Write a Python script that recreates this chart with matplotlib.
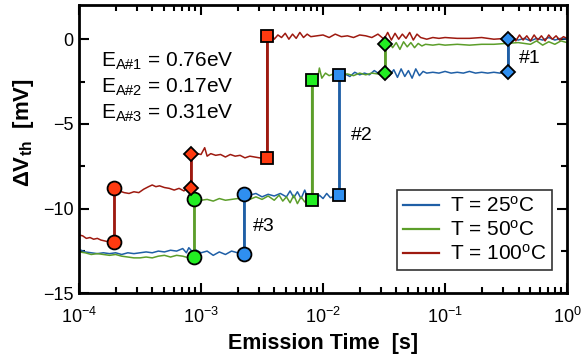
import numpy as np
import matplotlib
matplotlib.use("Agg")
import matplotlib.pyplot as plt
from matplotlib.ticker import LogLocator, NullFormatter, FixedLocator

plt.rcParams['font.family'] = ['Liberation Sans', 'DejaVu Sans']
plt.rcParams['mathtext.fontset'] = 'custom'
plt.rcParams['mathtext.rm'] = 'Liberation Sans'
plt.rcParams['mathtext.it'] = 'Liberation Sans'
plt.rcParams['mathtext.bf'] = 'Liberation Sans:bold'

# ---------------- data (log10 of emission time [s], dVth [mV]) ----------------
series_labels = ["T = 25$^{\\mathrm{o}}$C", "T = 50$^{\\mathrm{o}}$C", "T = 100$^{\\mathrm{o}}$C"]

blue_logt = [-4.00, -3.95, -3.90, -3.85, -3.80, -3.75, -3.70, -3.65, -3.60, -3.55, -3.50, -3.45, -3.40,
             -3.35, -3.30, -3.25, -3.20, -3.15, -3.12, -3.10, -3.07, -3.05, -3.00, -2.95, -2.90, -2.85,
             -2.80, -2.75, -2.70, -2.648,
             -2.648, -2.60, -2.55, -2.50, -2.45, -2.40, -2.35, -2.30, -2.27, -2.24, -2.21, -2.18, -2.15,
             -2.12, -2.09, -2.06, -2.03, -2.00, -1.97, -1.94, -1.90, -1.866,
             -1.866, -1.82, -1.78, -1.74, -1.70, -1.66, -1.62, -1.58, -1.54, -1.50, -1.46, -1.42, -1.39,
             -1.36, -1.33, -1.30, -1.27, -1.24, -1.21, -1.18, -1.15, -1.10, -1.05, -1.00, -0.95, -0.90,
             -0.85, -0.80, -0.75, -0.70, -0.65, -0.60, -0.55, -0.486,
             -0.486, -0.45, -0.40, -0.35, -0.30, -0.25, -0.20, -0.15, -0.10, -0.05, 0.0]
blue_v = [-12.4, -12.55, -12.6, -12.65, -12.6, -12.65, -12.6, -12.7, -12.6, -12.65, -12.6, -12.55, -12.6,
          -12.5, -12.55, -12.45, -12.5, -12.35, -12.6, -12.3, -12.55, -12.4, -12.6, -12.5, -12.75, -12.55,
          -12.7, -12.5, -12.6, -12.65,
          -9.15, -9.2, -9.1, -9.3, -9.15, -9.25, -9.1, -9.3, -8.95, -9.35, -9.0, -9.4, -8.9,
          -9.45, -9.1, -9.5, -9.2, -9.4, -9.1, -9.35, -9.25, -9.2,
          -2.1, -2.05, -2.2, -1.95, -2.1, -2.0, -2.1, -1.85, -2.05, -1.95, -2.2, -1.8, -2.25,
          -1.75, -2.2, -1.85, -2.3, -1.75, -2.15, -1.9, -2.0, -1.95, -2.0, -1.9, -2.0, -1.95,
          -2.0, -1.9, -2.0, -1.95, -2.0, -1.95, -2.0, -1.95,
          0.0, 0.05, -0.05, 0.05, -0.1, 0.05, -0.05, 0.1, -0.05, 0.05, 0.0]

green_logt = [-4.00, -3.95, -3.90, -3.85, -3.80, -3.75, -3.70, -3.65, -3.60, -3.55, -3.50, -3.45, -3.40,
              -3.35, -3.30, -3.25, -3.20, -3.15, -3.10, -3.055,
              -3.055, -3.00, -2.95, -2.90, -2.85, -2.80, -2.75, -2.70, -2.65, -2.60, -2.55, -2.50, -2.45,
              -2.40, -2.36, -2.33, -2.30, -2.27, -2.24, -2.21, -2.18, -2.15, -2.12, -2.093,
              -2.093, -2.07, -2.05, -2.03, -2.01, -1.98, -1.95, -1.90, -1.85, -1.80, -1.75, -1.70, -1.65,
              -1.60, -1.55, -1.492,
              -1.492, -1.46, -1.43, -1.40, -1.37, -1.34, -1.31, -1.28, -1.25, -1.22, -1.19, -1.16, -1.10,
              -1.05, -1.00, -0.90, -0.80, -0.70, -0.60, -0.50, -0.40, -0.30, -0.25, -0.20, -0.15, -0.10,
              -0.05, 0.0]
green_v = [-12.55, -12.6, -12.7, -12.65, -12.7, -12.75, -12.7, -12.8, -12.85, -12.9, -12.9, -12.85, -12.9,
           -12.8, -12.75, -12.85, -12.75, -12.8, -12.9, -12.85,
           -9.4, -9.5, -9.45, -9.55, -9.4, -9.5, -9.45, -9.4, -9.35, -9.45, -9.3, -9.45, -9.25,
           -9.5, -9.2, -9.55, -9.3, -9.65, -9.2, -9.7, -9.3, -9.6, -9.4, -9.5,
           -2.4, -2.2, -2.55, -1.7, -2.3, -2.0, -2.15, -2.0, -2.1, -2.05, -2.15, -2.0, -2.1,
           -2.0, -2.05, -2.0,
           -0.3, -0.1, -0.5, -0.2, -0.6, -0.15, -0.45, -0.2, -0.5, -0.25, -0.4, -0.3, -0.35,
           -0.3, -0.35, -0.3, -0.35, -0.3, -0.3, -0.25, -0.2, -0.3, -0.1, -0.35, -0.15, -0.3,
           -0.1, -0.2]

red_logt = [-4.00, -3.97, -3.94, -3.91, -3.88, -3.85, -3.82, -3.79, -3.76, -3.71,
            -3.71, -3.67, -3.63, -3.59, -3.55, -3.51, -3.47, -3.43, -3.40, -3.37, -3.34, -3.30, -3.26,
            -3.22, -3.18, -3.14, -3.11, -3.084,
            -3.084, -3.06, -3.03, -3.00, -2.97, -2.95, -2.92, -2.88, -2.84, -2.80, -2.76, -2.72, -2.68,
            -2.64, -2.60, -2.56, -2.52, -2.461,
            -2.461, -2.44, -2.42, -2.40, -2.37, -2.34, -2.31, -2.28, -2.25, -2.22, -2.19, -2.16, -2.13,
            -2.10, -2.05, -2.00, -1.95, -1.90, -1.85, -1.80, -1.75, -1.70, -1.65, -1.60, -1.55, -1.50,
            -1.47, -1.44, -1.41, -1.38, -1.35, -1.32, -1.29, -1.26, -1.23, -1.20, -1.15, -1.10, -1.05,
            -1.00, -0.90, -0.80, -0.70, -0.60, -0.50, -0.45, -0.42, -0.39, -0.36, -0.33, -0.30, -0.27,
            -0.24, -0.21, -0.18, -0.15, -0.12, -0.09, -0.06, -0.03, 0.0]
red_v = [-11.55, -11.6, -11.75, -11.7, -11.8, -11.75, -11.85, -11.9, -11.95, -11.95,
         -8.8, -8.95, -9.05, -9.1, -9.0, -9.05, -8.85, -8.7, -8.6, -8.7, -8.65, -8.75, -8.8,
         -8.9, -8.8, -8.95, -8.75, -8.8,
         -6.8, -6.85, -6.75, -6.8, -6.4, -6.9, -6.75, -6.85, -6.8, -6.95, -6.8, -6.9, -6.85,
         -7.0, -6.9, -6.95, -7.0, -7.0,
         0.2, 0.05, 0.3, 0.0, 0.25, 0.1, 0.35, 0.0, 0.3, 0.05, 0.4, 0.1, 0.3,
         0.15, 0.2, 0.25, 0.1, 0.3, 0.15, 0.2, 0.1, 0.25, 0.2, 0.1, 0.3, 0.0,
         0.4, -0.05, 0.35, 0.0, 0.3, 0.05, 0.4, -0.05, 0.3, 0.1, 0.0, 0.1, 0.05,
         0.1, 0.05, 0.05, 0.1, 0.0, 0.05, 0.2, -0.1, 0.25, -0.05, 0.2, -0.1, 0.25,
         -0.05, 0.2, -0.1, 0.25, 0.0, 0.2, -0.05, 0.15, 0.05]

# step events: (time of emission, level before, level after) for traps #3, #2, #1
blue_step_t = [2.25e-3, 1.36e-2, 0.327]
blue_step_lo = [-12.65, -9.2, -1.95]
blue_step_hi = [-9.15, -2.1, 0.0]

green_step_t = [8.8e-4, 8.07e-3, 0.0322]
green_step_lo = [-12.85, -9.5, -2.0]
green_step_hi = [-9.4, -2.4, -0.3]

red_step_t = [1.95e-4, 3.46e-3, 8.2e-4]
red_step_lo = [-11.95, -7.0, -8.8]
red_step_hi = [-8.8, 0.2, -6.8]

trap_markers = ['o', 's', 'D']  # #3, #2, #1
energies = ["E$_{\\mathrm{A\\#1}}$ = 0.76eV", "E$_{\\mathrm{A\\#2}}$ = 0.17eV", "E$_{\\mathrm{A\\#3}}$ = 0.31eV"]
trap_labels = ["#1", "#2", "#3"]

# ---------------- plot ----------------
fig = plt.figure(figsize=(5.81, 3.54), dpi=100)
ax = fig.add_axes([0.136, 0.171, 0.840, 0.814])

line_cols = ['#1f5fa6', '#5c9e2a', '#9e1a10']
fill_cols = ['#2f8ff0', '#22ee22', '#ff3a10']

traces = [(blue_logt, blue_v), (green_logt, green_v), (red_logt, red_v)]
steps = [(blue_step_t, blue_step_lo, blue_step_hi),
         (green_step_t, green_step_lo, green_step_hi),
         (red_step_t, red_step_lo, red_step_hi)]

for (lt, v), lc, lab in zip(traces, line_cols, series_labels):
    ax.plot(10 ** np.array(lt), v, color=lc, lw=1.1, label=lab, zorder=2)

for (st, lo, hi), lc, fc in zip(steps, line_cols, fill_cols):
    for t, a, b, m in zip(st, lo, hi, trap_markers):
        ax.plot([t, t], [a, b], color=lc, lw=2.0, zorder=3)
        ms = 10 if m == 'o' else (9 if m == 's' else 7.5)
        ax.plot([t, t], [a, b], ls='none', marker=m, ms=ms, mfc=fc, mec='black', mew=1.3, zorder=4)

ax.set_xscale('log')
ax.set_xlim(1e-4, 1)
ax.set_ylim(-15, 2)

ax.xaxis.set_major_locator(LogLocator(base=10, numticks=10))
ax.xaxis.set_minor_locator(LogLocator(base=10, subs=np.arange(2, 10), numticks=10))
ax.xaxis.set_minor_formatter(NullFormatter())
ax.yaxis.set_major_locator(FixedLocator([-15, -10, -5, 0]))
ax.yaxis.set_minor_locator(FixedLocator([-12.5, -7.5, -2.5]))

ax.tick_params(which='both', direction='in', top=True, right=True, width=1.5, labelsize=13)
ax.tick_params(which='major', length=7)
ax.tick_params(which='minor', length=4)
ax.tick_params(axis='x', which='major', pad=10)
ax.tick_params(axis='y', which='major', pad=4)
for s in ax.spines.values():
    s.set_linewidth(2.0)

ax.set_xlabel("Emission Time  [s]", fontsize=15.5, fontweight='bold')
ax.xaxis.set_label_coords(0.5, -0.138)
ax.set_ylabel("$\\mathbf{\\Delta V_{th}}$  [mV]", fontsize=16, fontweight='bold')
ax.yaxis.set_label_coords(-0.088, 0.557)

for i, txt in enumerate(energies):
    ax.text(1.51e-4, -1.6 - 1.54 * i, txt, fontsize=15, va='baseline', ha='left')

ax.text(0.40, -1.12, trap_labels[0], fontsize=14, va='center', ha='left')
ax.text(0.017, -5.68, trap_labels[1], fontsize=14, va='center', ha='left')
ax.text(2.67e-3, -11.07, trap_labels[2], fontsize=14, va='center', ha='left')

leg = ax.legend(loc='lower right', bbox_to_anchor=(0.97, 0.08), fontsize=15, frameon=True,
                fancybox=False, edgecolor='black', handlelength=1.75, handletextpad=0.5,
                labelspacing=0.2, borderpad=0.3, borderaxespad=0)
leg.get_frame().set_linewidth(1.2)
for h in leg.get_lines():
    h.set_linewidth(1.6)

fig.savefig("out.png", dpi=100)
